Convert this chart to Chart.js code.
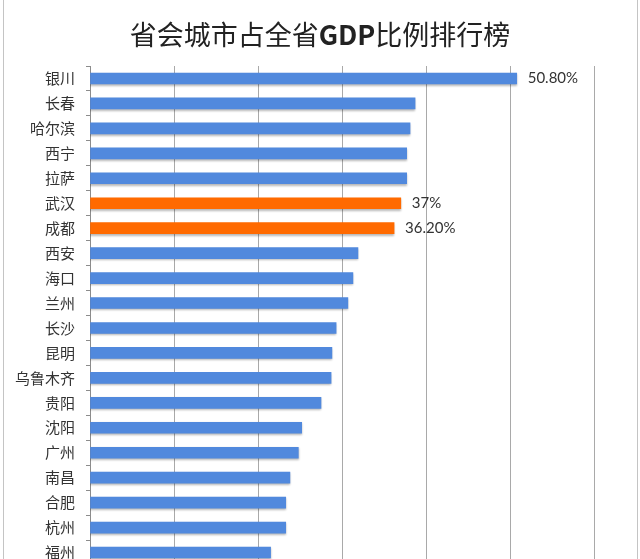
<!DOCTYPE html>
<html>
<head>
<meta charset="utf-8">
<script src="https://cdn.jsdelivr.net/npm/chart.js@4"></script>
<style>
  html, body { margin: 0; padding: 0; background: #fff; overflow: hidden; }
  #wrap { position: relative; width: 640px; height: 585px; }
  #frame { position: absolute; left: 3px; top: 0; width: 633px; height: 585px;
           border-left: 1px solid #c4c4c4; border-right: 1px solid #c4c4c4; pointer-events: none; }
</style>
</head>
<body>
<div id="wrap">
  <canvas id="chart"></canvas>
  <div id="frame"></div>
</div>
<script>
"use strict";

const TITLE = "省会城市占全省GDP比例排行榜";

const CITIES = ["银川", "长春", "哈尔滨", "西宁", "拉萨", "武汉", "成都", "西安", "海口", "兰州",
                "长沙", "昆明", "乌鲁木齐", "贵阳", "沈阳", "广州", "南昌", "合肥", "杭州", "福州"];

const SHARES = [50.8, 38.7, 38.1, 37.7, 37.7, 37.0, 36.2, 31.9, 31.3, 30.7,
                29.3, 28.8, 28.7, 27.5, 25.2, 24.8, 23.8, 23.3, 23.3, 21.5];

// only these rows carry a value label in the picture
const VALUE_LABELS = ["50.80%", null, null, null, null, "37%", "36.20%", null, null, null,
                      null, null, null, null, null, null, null, null, null, null];

const HIGHLIGHT = ["武汉", "成都"];

const X_TICKS = [0, 10, 20, 30, 40, 50, 60];

const CJK = "'Noto Sans CJK SC', 'Noto Sans', sans-serif";

// soft drop shadow under the bars, like the original's bevelled look
const barShadow = {
  id: "barShadow",
  beforeDatasetsDraw(chart) {
    const ctx = chart.ctx;
    ctx.save();
    ctx.shadowColor = "rgba(0,0,0,0.28)";
    ctx.shadowBlur = 2;
    ctx.shadowOffsetY = 1.5;
  },
  afterDatasetsDraw(chart) {
    chart.ctx.restore();
  },
};

// value text to the right of the labelled bars
const valueLabels = {
  id: "valueLabels",
  afterDatasetsDraw(chart) {
    const ctx = chart.ctx;
    const meta = chart.getDatasetMeta(0);
    ctx.save();
    ctx.font = "15px 'Lato', 'Liberation Sans', sans-serif";
    ctx.fillStyle = "#333";
    ctx.textAlign = "left";
    ctx.textBaseline = "middle";
    meta.data.forEach((bar, i) => {
      const t = VALUE_LABELS[i];
      if (t) ctx.fillText(t, bar.x + 11, bar.y);
    });
    ctx.restore();
  },
};

// title centred on the whole canvas (the built-in one centres on the padded box);
// the latin part is bold, as in the original
const pageTitle = {
  id: "pageTitle",
  afterDraw(chart) {
    const ctx = chart.ctx;
    const parts = TITLE.split(/(GDP)/).filter(Boolean);
    const fontOf = (p) => (p === "GDP" ? "bold 27px " : "27px ") + CJK;
    ctx.save();
    ctx.fillStyle = "#222";
    ctx.textBaseline = "middle";
    ctx.textAlign = "left";
    const widths = parts.map((p) => { ctx.font = fontOf(p); return ctx.measureText(p).width; });
    let x = chart.width / 2 - widths.reduce((a, b) => a + b, 0) / 2;
    parts.forEach((p, i) => {
      ctx.font = fontOf(p);
      ctx.fillText(p, x, 35);
      x += widths[i];
    });
    ctx.restore();
  },
};

new Chart(document.getElementById("chart"), {
  type: "bar",
  data: {
    labels: CITIES,
    datasets: [{
      data: SHARES,
      backgroundColor: CITIES.map((c) => (HIGHLIGHT.includes(c) ? "#ff6a00" : "#5189dd")),
      barThickness: 11,
      borderWidth: 0,
    }],
  },
  plugins: [barShadow, valueLabels, pageTitle],
  options: {
    indexAxis: "y",
    responsive: true, maintainAspectRatio: false, animation: false,
    layout: { padding: { left: 4, right: 46, top: 66, bottom: 4 } },
    scales: {
      x: {
        min: X_TICKS[0], max: X_TICKS[X_TICKS.length - 1],
        afterBuildTicks: (s) => { s.ticks = X_TICKS.map((v) => ({ value: v })); },
        ticks: { display: false },
        grid: { color: "#a9a9a9", lineWidth: 1, drawTicks: false },
        border: { display: false },
      },
      y: {
        ticks: { color: "#333", padding: 11, font: { family: CJK, size: 15 } },
        grid: { offset: true, drawOnChartArea: false, drawTicks: true, tickLength: 4, color: "#8c8c8c" },
        border: { color: "#8c8c8c", width: 1 },
      },
    },
    plugins: {
      legend: { display: false },
      tooltip: { enabled: false },
      title: { display: false },
    },
  },
});
</script>
</body>
</html>
